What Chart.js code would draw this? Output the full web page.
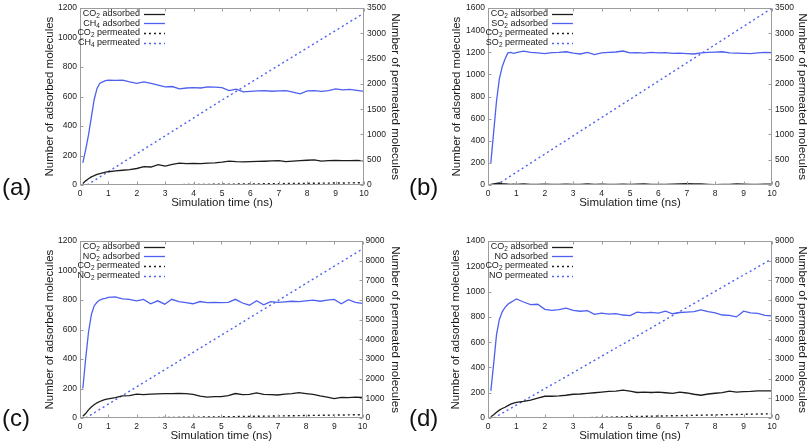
<!DOCTYPE html>
<html><head><meta charset="utf-8">
<script src="https://cdn.jsdelivr.net/npm/chart.js@4.4.1/dist/chart.umd.min.js"></script>
<style>
html,body{margin:0;padding:0;background:#fff;overflow:hidden;width:810px;height:445px;}
canvas{position:absolute;}
.tag{position:absolute;font-family:'Liberation Sans',Arial,sans-serif;font-size:24px;line-height:24px;color:#111;}
</style></head><body>
<canvas id="ca" width="405" height="222" style="left:0;top:0"></canvas>
<canvas id="cb" width="405" height="222" style="left:405px;top:0"></canvas>
<canvas id="cc" width="405" height="212" style="left:0;top:233px"></canvas>
<canvas id="cd" width="405" height="212" style="left:405px;top:233px"></canvas>
<div class="tag" style="left:2px;top:175px">(a)</div>
<div class="tag" style="left:409px;top:175px">(b)</div>
<div class="tag" style="left:2px;top:406px">(c)</div>
<div class="tag" style="left:409px;top:406px">(d)</div>
<script>
// ---------- DATA ----------
const TIME = [0.1,0.2,0.3,0.4,0.5,0.6,0.7,0.8,0.9,1.0,1.25,1.5,1.75,2.0,2.25,2.5,2.75,3.0,3.25,3.5,3.75,4.0,4.25,4.5,4.75,5.0,5.25,5.5,5.75,6.0,6.25,6.5,6.75,7.0,7.25,7.5,7.75,8.0,8.25,8.5,8.75,9.0,9.25,9.5,9.75,10.0];
const X_TICKS = [0,1,2,3,4,5,6,7,8,9,10];

// (a) CO2 / CH4
const A_CO2_ADS = [10,28,42,55,63,72,77,82,87,90,96,100,104,112,124,122,138,128,140,148,145,146,145,148,150,155,162,158,157,158,160,161,163,166,158,162,165,168,170,162,165,167,166,165,167,163];
const A_CH4_ADS = [150,240,340,460,580,655,690,700,708,712,710,712,700,690,700,690,678,665,668,652,658,660,658,665,664,660,640,650,632,635,638,640,636,638,640,630,618,638,640,635,640,652,645,648,642,635];
const A_CO2_PERM_T = [0.1,2,5,7.5,10];
const A_CO2_PERM = [0,0,15,30,45];
const A_CH4_PERM_T = [0.25,5,10];
const A_CH4_PERM = [0,1680,3400];
const A_LEFT_TICKS = [0,200,400,600,800,1000,1200];
const A_RIGHT_TICKS = [0,500,1000,1500,2000,2500,3000,3500];

// (b) CO2 / SO2
const B_CO2_ADS = [5,10,15,18,12,10,8,6,8,6,10,6,5,8,5,6,8,5,6,9,5,7,6,5,8,6,7,9,6,5,6,8,10,12,11,9,6,4,5,6,10,8,5,6,7,8];
const B_SO2_ADS = [200,480,760,960,1070,1140,1195,1200,1190,1198,1210,1200,1195,1188,1198,1200,1205,1192,1185,1200,1180,1195,1200,1203,1212,1195,1198,1192,1200,1195,1198,1190,1192,1188,1185,1195,1200,1202,1205,1195,1192,1190,1188,1195,1200,1198];
const B_CO2_PERM_T = [0.1,10];
const B_CO2_PERM = [0,5];
const B_SO2_PERM_T = [0.3,7.4,10];
const B_SO2_PERM = [0,2560,3500];
const B_LEFT_TICKS = [0,200,400,600,800,1000,1200,1400,1600];
const B_RIGHT_TICKS = [0,500,1000,1500,2000,2500,3000,3500];

// (c) CO2 / NO2
const C_CO2_ADS = [12,30,55,75,90,103,112,120,126,130,138,150,152,162,158,162,163,165,166,167,165,160,148,142,145,145,152,166,158,160,170,160,158,156,162,166,172,166,160,150,142,132,140,138,142,140];
const C_NO2_ADS = [200,400,580,700,760,785,800,808,812,818,822,808,805,795,805,775,795,772,805,790,782,775,790,782,785,782,785,805,780,765,795,768,790,785,788,792,790,795,800,792,800,805,775,803,785,778];
const C_CO2_PERM_T = [0.1,1.5,5,10];
const C_CO2_PERM = [0,0,60,170];
const C_NO2_PERM_T = [0.2,10];
const C_NO2_PERM = [0,8600];
const C_LEFT_TICKS = [0,200,400,600,800,1000,1200];
const C_RIGHT_TICKS = [0,1000,2000,3000,4000,5000,6000,7000,8000,9000];

// (d) CO2 / NO
const D_CO2_ADS = [10,25,45,62,75,85,98,110,118,124,132,142,158,172,172,175,180,188,190,195,200,205,210,212,220,212,202,205,202,205,200,195,205,198,188,180,190,196,200,212,205,208,210,215,215,214];
const D_NO_ADS = [215,430,660,780,840,875,900,915,928,942,918,898,900,860,852,858,870,852,845,850,820,830,822,826,815,810,838,832,836,830,845,825,835,838,842,855,842,832,815,812,800,845,832,828,812,808];
const D_CO2_PERM_T = [0.1,3,6,10];
const D_CO2_PERM = [0,0,100,215];
const D_NO_PERM_T = [0.2,10];
const D_NO_PERM = [0,8100];
const D_LEFT_TICKS = [0,200,400,600,800,1000,1200,1400];
const D_RIGHT_TICKS = [0,1000,2000,3000,4000,5000,6000,7000,8000,9000];

// ---------- STYLE / LAYOUT ----------
const FAM = "'Liberation Sans', Arial, Helvetica, sans-serif";
const BLACK = '#1c1c1c';
const BLUE = '#4d60f0';
const FRAME = '#9c9c9c';
Chart.defaults.font.family = FAM;
Chart.defaults.color = '#1a1a1a';

function pts(xs, ys){ return xs.map((x,i)=>({x:x, y:ys[i]})); }

function richParts(str){
  const subs = '₀₁₂₃₄₅₆₇₈₉'; const parts = [];
  for (const ch of str){
    const i = subs.indexOf(ch); const sub = i >= 0; const c = sub ? String(i) : ch;
    if (parts.length && parts[parts.length-1].sub === sub) parts[parts.length-1].t += c;
    else parts.push({t:c, sub:sub});
  }
  return parts;
}
function drawRich(ctx, str, xRight, y, size){
  const parts = richParts(str); let w = 0;
  parts.forEach(p=>{ ctx.font = (p.sub ? size*0.72 : size) + 'px ' + FAM; p.w = ctx.measureText(p.t).width; w += p.w; });
  let x = xRight - w;
  parts.forEach(p=>{ ctx.font = (p.sub ? size*0.72 : size) + 'px ' + FAM; ctx.fillText(p.t, x, p.sub ? y + size*0.28 : y); x += p.w; });
}

const framePlugin = {
  id: 'frameLegend',
  afterDatasetsDraw(chart){
    const {ctx, chartArea: a, scales} = chart;
    ctx.save();
    ctx.strokeStyle = FRAME; ctx.lineWidth = 1;
    const L = Math.round(a.left)+0.5, R = Math.round(a.right)-0.5, T = Math.round(a.top)+0.5, B = Math.round(a.bottom)-0.5;
    ctx.strokeRect(L, T, R-L, B-T);
    ctx.beginPath();
    scales.x.ticks.forEach(t=>{ const px = Math.round(scales.x.getPixelForValue(t.value))+0.5; ctx.moveTo(px,B); ctx.lineTo(px,B-3); ctx.moveTo(px,T); ctx.lineTo(px,T+3); });
    scales.y.ticks.forEach(t=>{ const py = Math.round(scales.y.getPixelForValue(t.value))+0.5; ctx.moveTo(L,py); ctx.lineTo(L+3,py); });
    scales.y2.ticks.forEach(t=>{ const py = Math.round(scales.y2.getPixelForValue(t.value))+0.5; ctx.moveTo(R,py); ctx.lineTo(R-3,py); });
    ctx.stroke();
    // legend (gnuplot style: right-aligned text, sample to the right)
    ctx.textBaseline = 'middle'; ctx.textAlign = 'left'; ctx.fillStyle = '#1a1a1a';
    chart.data.datasets.forEach((ds,i)=>{
      const y = a.top + 5.5 + i*9.7;
      drawRich(ctx, ds.label, a.left + 60, y, 9);
      ctx.beginPath(); ctx.strokeStyle = ds.borderColor; ctx.lineWidth = ds.borderWidth;
      ctx.setLineDash(ds.borderDash || []);
      ctx.moveTo(a.left + 64, Math.round(y)+0.5); ctx.lineTo(a.left + 85, Math.round(y)+0.5); ctx.stroke();
      ctx.setLineDash([]);
    });
    ctx.restore();
  }
};

function makePanel(P){
  const tickFont = {size: 8.5};
  const titleFont = {size: 11.5};
  const lh = 11.5*1.2;
  const plain = v => String(v);
  const datasets = [
    {label: P.labels[0], data: pts(TIME, P.ads1), borderColor: BLACK, borderWidth: 1.3, yAxisID: 'y'},
    {label: P.labels[1], data: pts(TIME, P.ads2), borderColor: BLUE, borderWidth: 1.3, yAxisID: 'y'},
    {label: P.labels[2], data: pts(P.p1t, P.p1), borderColor: BLACK, borderWidth: 1.4, borderDash: [2,3], yAxisID: 'y2'},
    {label: P.labels[3], data: pts(P.p2t, P.p2), borderColor: BLUE, borderWidth: 1.4, borderDash: [2,3], yAxisID: 'y2'}
  ];
  datasets.forEach(d=>{ d.pointRadius = 0; d.fill = false; d.tension = 0; });
  new Chart(document.getElementById(P.id), {
    type: 'line',
    data: {datasets},
    options: {
      responsive: false, animation: false, devicePixelRatio: 1,
      layout: {padding: {top: P.pt, left: 0, right: 0, bottom: 0}},
      plugins: {legend: {display: false}, tooltip: {enabled: false}},
      scales: {
        x: {
          type: 'linear', min: 0, max: 10,
          afterBuildTicks: s => { s.ticks = X_TICKS.map(v=>({value:v})); },
          afterFit: s => { s.height = P.h - P.pb; },
          ticks: {font: tickFont, color: '#1a1a1a', padding: 4, maxRotation: 0, autoSkip: false, callback: plain},
          grid: {display: false, drawTicks: false}, border: {display: false},
          title: {display: true, text: 'Simulation time (ns)', font: titleFont, color: '#1a1a1a', padding: {top: 0, bottom: P.h - P.xTitleY - lh/2}}
        },
        y: {
          type: 'linear', position: 'left', min: P.lt[0], max: P.lt[P.lt.length-1],
          afterBuildTicks: s => { s.ticks = P.lt.map(v=>({value:v})); },
          afterFit: s => { s.width = P.pl; },
          ticks: {font: tickFont, color: '#1a1a1a', padding: 3, autoSkip: false, callback: plain},
          grid: {display: false, drawTicks: false}, border: {display: false},
          title: {display: true, text: 'Number of adsorbed molecules', font: titleFont, color: '#1a1a1a', padding: {top: P.yTitleX - lh/2, bottom: 0}}
        },
        y2: {
          type: 'linear', position: 'right', min: P.rt[0], max: P.rt[P.rt.length-1],
          afterBuildTicks: s => { s.ticks = P.rt.map(v=>({value:v})); },
          afterFit: s => { s.width = P.w - P.pr; },
          ticks: {font: tickFont, color: '#1a1a1a', padding: 3, autoSkip: false, callback: plain},
          grid: {display: false, drawTicks: false}, border: {display: false},
          title: {display: true, text: 'Number of permeated molecules', font: titleFont, color: '#1a1a1a', padding: {top: P.w - P.y2TitleX - lh/2, bottom: 0}}
        }
      }
    },
    plugins: [framePlugin]
  });
}

makePanel({id:'ca', w:405, h:222, pl:80, pr:364, pt:4.5, pb:185, yTitleX:50, y2TitleX:395, xTitleY:203,
  labels:['CO₂ adsorbed','CH₄ adsorbed','CO₂ permeated','CH₄ permeated'],
  ads1:A_CO2_ADS, ads2:A_CH4_ADS, p1t:A_CO2_PERM_T, p1:A_CO2_PERM, p2t:A_CH4_PERM_T, p2:A_CH4_PERM, lt:A_LEFT_TICKS, rt:A_RIGHT_TICKS});
makePanel({id:'cb', w:405, h:222, pl:83, pr:367, pt:4.5, pb:185, yTitleX:52, y2TitleX:397, xTitleY:203,
  labels:['CO₂ adsorbed','SO₂ adsorbed','CO₂ permeated','SO₂ permeated'],
  ads1:B_CO2_ADS, ads2:B_SO2_ADS, p1t:B_CO2_PERM_T, p1:B_CO2_PERM, p2t:B_SO2_PERM_T, p2:B_SO2_PERM, lt:B_LEFT_TICKS, rt:B_RIGHT_TICKS});
makePanel({id:'cc', w:405, h:212, pl:80, pr:362.5, pt:5, pb:185, yTitleX:50, y2TitleX:395, xTitleY:203,
  labels:['CO₂ adsorbed','NO₂ adsorbed','CO₂ permeated','NO₂ permeated'],
  ads1:C_CO2_ADS, ads2:C_NO2_ADS, p1t:C_CO2_PERM_T, p1:C_CO2_PERM, p2t:C_NO2_PERM_T, p2:C_NO2_PERM, lt:C_LEFT_TICKS, rt:C_RIGHT_TICKS});
makePanel({id:'cd', w:405, h:212, pl:83, pr:367, pt:5, pb:185, yTitleX:51, y2TitleX:397, xTitleY:203,
  labels:['CO₂ adsorbed','NO adsorbed','CO₂ permeated','NO permeated'],
  ads1:D_CO2_ADS, ads2:D_NO_ADS, p1t:D_CO2_PERM_T, p1:D_CO2_PERM, p2t:D_NO_PERM_T, p2:D_NO_PERM, lt:D_LEFT_TICKS, rt:D_RIGHT_TICKS});
</script>
</body></html>
